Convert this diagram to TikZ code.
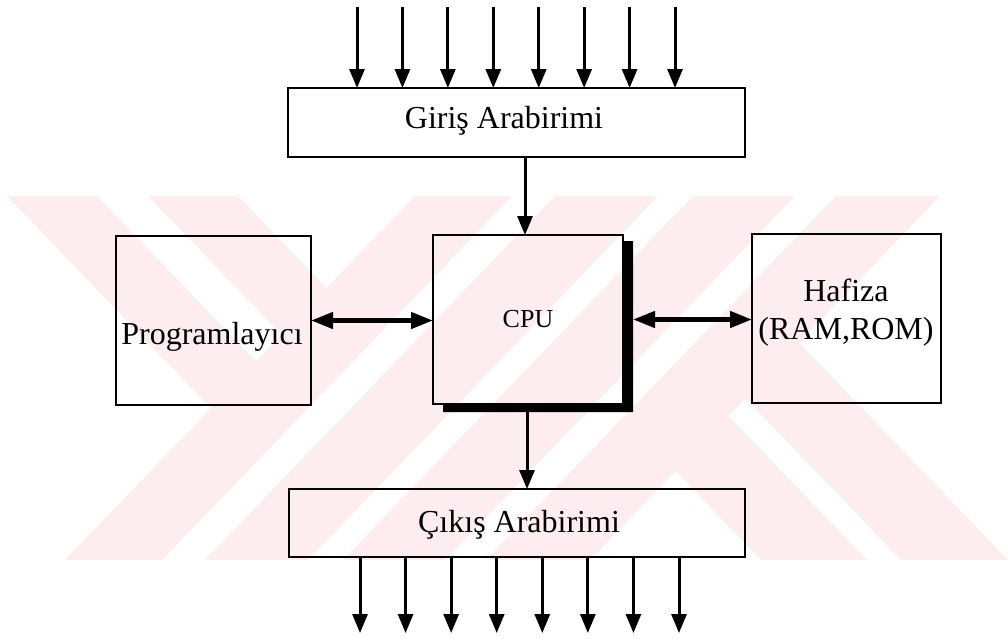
\documentclass[tikz,border=0pt]{standalone}
\usepackage{fontspec}
\setmainfont{Liberation Serif}
\usetikzlibrary{arrows.meta,calc}
\definecolor{wm}{RGB}{253,236,240}
\begin{document}
\begin{tikzpicture}[x=1pt,y=-1pt,
  box/.style={draw=black, line width=2.5pt, inner sep=0pt, outer sep=0pt},
  arr/.style={line width=3pt, -{Triangle[length=19pt,width=15pt]}},
  barr/.style={line width=4.5pt, {Triangle[length=22pt,width=16pt]}-{Triangle[length=22pt,width=16pt]}},
  lbl/.style={font=\fontsize{32}{36}\selectfont, inner sep=0pt, anchor=base},
  wmark/.style={fill=wm}]
\useasboundingbox (0,0) rectangle (1008,638);
% watermark stripes
\fill[wmark] (7,196) -- (97,196) -- (280.3,386.6) -- (235.2,433.4) -- cycle;
\fill[wmark] (148,196) -- (238,196) -- (350.8,313.3) -- (305.8,360) -- cycle;
\fill[wmark] (415,196) -- (512,196) -- (162,560) -- (65,560) -- cycle;
\fill[wmark] (555,196) -- (658,196) -- (308,560) -- (205,560) -- cycle;
\fill[wmark] (693,196) -- (795,196) -- (445,560) -- (343,560) -- cycle;
\fill[wmark] (836,196) -- (940,196) -- (590,560) -- (486,560) -- cycle;
\fill[wmark] (649.5,444) -- (702.5,388.9) -- (867,560) -- (761,560) -- cycle;
\fill[wmark] (719.4,371.1) -- (773,315.6) -- (1008,560) -- (901,560) -- cycle;
% boxes
\node[box, minimum width=457pt, minimum height=69pt] (gir) at (516.5,122.5) {};
\node[box, minimum width=190pt, minimum height=169pt] (cpu) at (528,319.5) {};
\node[box, minimum width=195pt, minimum height=169pt] (prog) at (213.5,320.5) {};
\node[box, minimum width=189pt, minimum height=169pt] (haf) at (846.5,318.5) {};
\node[box, minimum width=456pt, minimum height=68pt] (cik) at (517,523) {};
% CPU shadow
\coordinate (shA) at ($(cpu.north east)+(0,6)$);
\coordinate (shB) at ($(cpu.north east)+(10,6)$);
\coordinate (shC) at ($(cpu.south east)+(10,8)$);
\coordinate (shD) at ($(cpu.south west)+(10,8)$);
\coordinate (shE) at ($(cpu.south west)+(10,0)$);
\fill[black] (shA) -- (shB) -- (shC) -- (shD) -- (shE) -- (cpu.south east) -- cycle;
% labels
\node[lbl] (tgir) at (504,128) {Giriş Arabirimi};
\node[lbl, font=\fontsize{26}{30}\selectfont] (tcpu) at (528,327) {CPU};
\node[lbl] (tprog) at (212,344) {Programlayıcı};
\node[lbl] (thaf1) at (846,301) {Hafiza};
\node[lbl] (thaf2) at (846,339) {(RAM,ROM)};
\node[lbl] (tcik) at (519,532) {Çıkış Arabirimi};
% input arrows
\foreach \k in {0,...,7}{
  \coordinate (in\k) at ({357+\k*45.43},7);
  \draw[arr] (in\k) -- (in\k |- gir.north);
}
% output arrows
\foreach \k in {0,...,7}{
  \coordinate (out\k) at ({360+\k*45.57},633);
  \draw[arr] (out\k |- cik.south) -- (out\k);
}
% internal connectors
\coordinate (gcs) at ($(gir.south)+(8.5,0)$);
\draw[arr] (gcs) -- (gcs |- cpu.north);
\coordinate (ccs) at ($(cpu.south)+(-1,8)$);
\draw[arr] (ccs) -- (ccs |- cik.north);
\draw[barr] (prog.east) -- (prog.east -| cpu.west);
\coordinate (chs) at ($(cpu.east)+(10,0)$);
\draw[barr] (chs) -- (chs -| haf.west);
\end{tikzpicture}
\end{document}
